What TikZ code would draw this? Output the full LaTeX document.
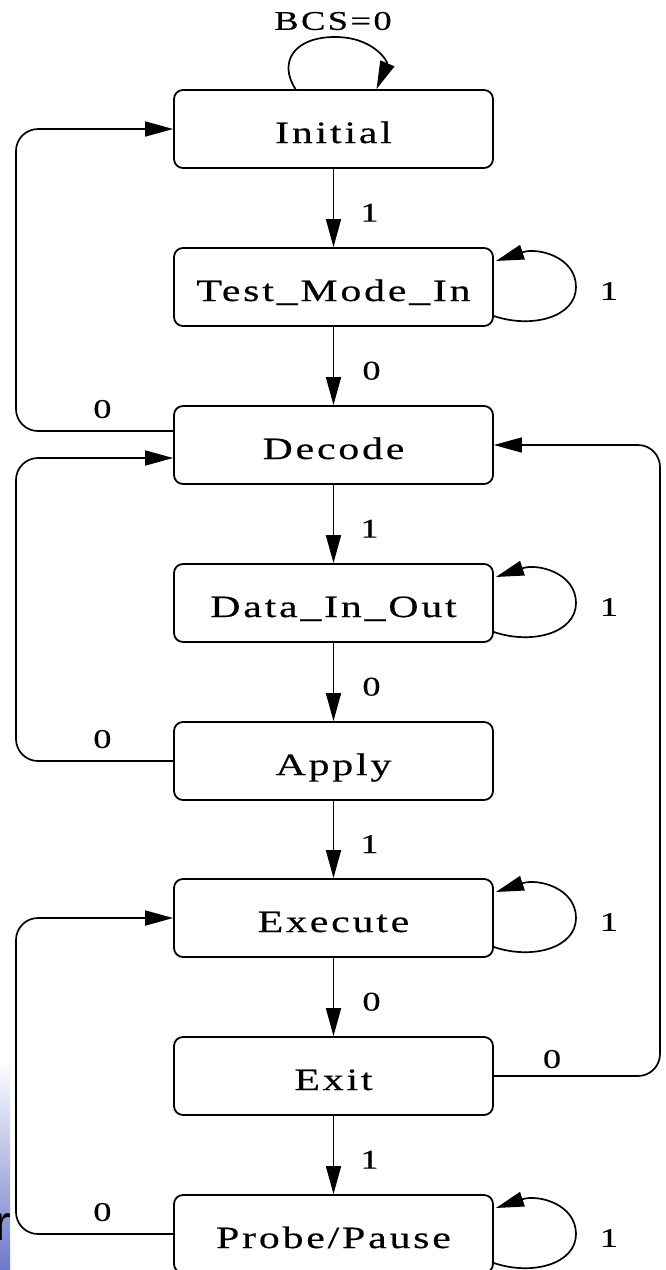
\documentclass[tikz,border=0pt]{standalone}
\usepackage{fontspec}
\setmainfont{Liberation Serif}
\newfontfamily\statefont{Liberation Serif}[FakeStretch=1.35,LetterSpace=9,FakeBold=0.4]
\newfontfamily\slidefont{Liberation Sans}
\usetikzlibrary{arrows.meta}
\definecolor{slideblue}{RGB}{108,120,200}
\tikzset{
  stbox/.style={draw, line width=1.8pt, rounded corners=9pt,
    minimum width=319pt, minimum height=78pt, inner sep=0pt,
    text height=28pt, text depth=0pt,
    font=\statefont\fontsize{31}{33}\selectfont},
  lbl/.style={inner sep=0pt, font=\statefont\fontsize{27}{29}\selectfont},
  arr/.style={line width=1.7pt, -{Triangle[length=28pt,width=15pt]}},
  back/.style={arr, rounded corners=22pt},
}
% self loop on the right side of a state: #1 node, #2 its centre y
\newcommand\sideloop[2]{%
  \draw[arr] ([shift={(0,29)}]#1.east)
    .. controls (532,#2+42) and (576,#2+30) .. (576,#2)
    .. controls (576,#2-30) and (538,#2-40) .. ([shift={(2,-26)}]#1.east);
  \node[lbl] (#1loop) at (609,#2+4) {1};}
\begin{document}
\begin{tikzpicture}[x=1pt,y=-1pt]
\useasboundingbox (0,0) rectangle (665,1270);

% slide edge in the lower left corner
\shade[top color=white, bottom color=slideblue] (0,1060) rectangle (10,1270);
\node[anchor=base east, inner sep=0pt, font=\slidefont\fontsize{50}{50}\selectfont]
  (slider) at (11,1240) {r};

% states
\node[stbox] (ini) at (333.5,129)  {Initial};
\node[stbox] (tmi) at (333.5,287)  {Test\_Mode\_In};
\node[stbox] (dec) at (333.5,445)  {Decode};
\node[stbox] (dio) at (333.5,603)  {Data\_In\_Out};
\node[stbox] (app) at (333.5,761)  {Apply};
\node[stbox] (exe) at (333.5,918)  {Execute};
\node[stbox] (exi) at (333.5,1076) {Exit};
\node[stbox] (pp)  at (333.5,1234) {Probe/Pause};

% main chain
\draw[arr] (ini) -- node[lbl, pos=0.56, xshift=36pt] (l1) {1} (tmi);
\draw[arr] (tmi) -- node[lbl, pos=0.56, xshift=38pt] (l2) {0} (dec);
\draw[arr] (dec) -- node[lbl, pos=0.56, xshift=36pt] (l3) {1} (dio);
\draw[arr] (dio) -- node[lbl, pos=0.56, xshift=38pt] (l4) {0} (app);
\draw[arr] (app) -- node[lbl, pos=0.56, xshift=36pt] (l5) {1} (exe);
\draw[arr] (exe) -- node[lbl, pos=0.56, xshift=38pt] (l6) {0} (exi);
\draw[arr] (exi) -- node[lbl, pos=0.56, xshift=36pt] (l7) {1} (pp);

% reset loop on the initial state
\draw[arr] ([shift={(-38,0)}]ini.north)
  .. controls (278,62) and (294,37) .. (335,37)
  .. controls (374,37) and (388,62) .. ([shift={(43,0)}]ini.north);
\node[lbl] (bcs) at (333,21) {BCS=0};

% self loops
\sideloop{tmi}{287}
\sideloop{dio}{603}
\sideloop{exe}{918}
\sideloop{pp}{1234}

% return paths
\draw[back] ([shift={(0,-14)}]dec.west)
  -- node[lbl, pos=0.45, above=12pt] (r1) {0} (16,431) -- (16,129) -- (ini.west);
\draw[back] (app.west)
  -- node[lbl, pos=0.45, above=12pt] (r2) {0} (16,761) -- (16,458) -- ([shift={(0,13)}]dec.west);
\draw[back] (pp.west)
  -- node[lbl, pos=0.45, above=12pt] (r3) {0} (16,1234) -- (16,918) -- (exe.west);
\draw[back] (exi.east)
  -- node[lbl, pos=0.35, above=7pt] (r4) {0} (660,1076) -- (660,445) -- (dec.east);
\end{tikzpicture}
\end{document}
